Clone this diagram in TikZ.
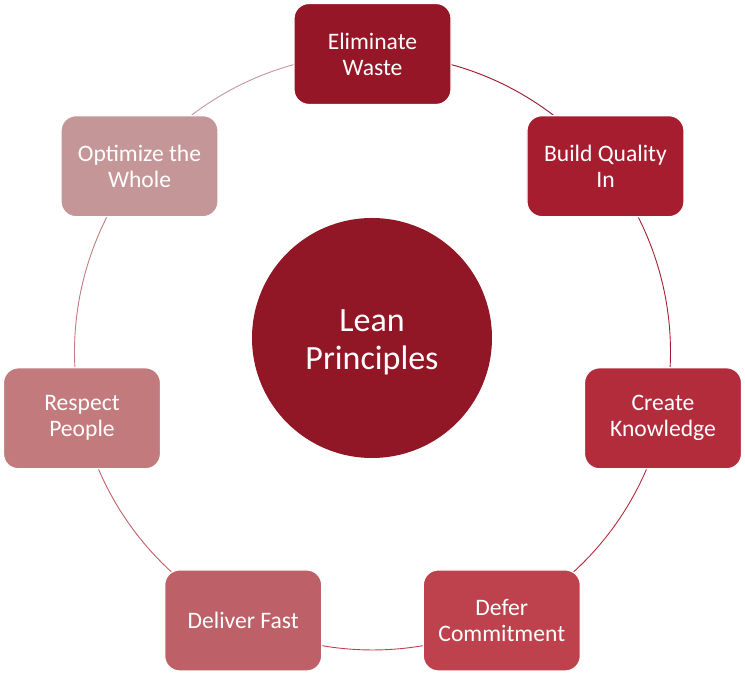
\documentclass[tikz,border=0pt]{standalone}
\usepackage{fontspec}
\setmainfont{Carlito}
\usetikzlibrary{calc}
\definecolor{cA}{RGB}{149,22,39}
\definecolor{cB}{RGB}{166,29,48}
\definecolor{cC}{RGB}{179,44,60}
\definecolor{cD}{RGB}{190,66,77}
\definecolor{cE}{RGB}{190,96,104}
\definecolor{cF}{RGB}{194,122,125}
\definecolor{cG}{RGB}{197,150,152}
\definecolor{cHub}{RGB}{146,23,38}
\tikzset{
  pbox/.style={rounded corners=15pt, minimum width=157pt, minimum height=101pt,
    inner sep=0pt, draw=white, line width=1.2pt, text=white, align=center,
    font=\fontsize{23.6}{26}\selectfont},
  ring/.style={line width=0.9pt},
  hub/.style={circle, minimum size=240pt, inner sep=0pt, fill=cHub, text=white,
    align=center, font=\fontsize{34}{38}\selectfont}
}
\begin{document}
\begin{tikzpicture}[x=1pt,y=1pt]
\useasboundingbox (0,0) rectangle (745,674);
\coordinate (ctr) at (372.5,322);
% ring segments
\foreach \k/\col in {0/cA,1/cB,2/cC,3/cD,4/cE,5/cF,6/cG}{
  \pgfmathsetmacro{\a}{90-\k*360/7}
  \pgfmathsetmacro{\b}{90-(\k+1)*360/7}
  \draw[ring,\col] ($(ctr)+(\a:298)$) arc[start angle=\a, end angle=\b, radius=298];
}
% boxes
\node[pbox,fill=cA] (b0) at ($(ctr)+({90}:298)$) {Eliminate\\Waste};
\node[pbox,fill=cB] (b1) at ($(ctr)+({90-360/7}:298)$) {Build Quality\\In};
\node[pbox,fill=cC] (b2) at ($(ctr)+({90-2*360/7}:298)$) {Create\\Knowledge};
\node[pbox,fill=cD] (b3) at ($(ctr)+({90-3*360/7}:298)$) {Defer\\Commitment};
\node[pbox,fill=cE] (b4) at ($(ctr)+({90-4*360/7}:298)$) {Deliver Fast};
\node[pbox,fill=cF] (b5) at ($(ctr)+({90-5*360/7}:298)$) {Respect\\People};
\node[pbox,fill=cG] (b6) at ($(ctr)+({90-6*360/7}:298)$) {Optimize the\\Whole};
% hub
\node[hub] (hubn) at (372,336) {};
\node[text=white, align=center, font=\fontsize{34}{38}\selectfont, inner sep=0pt] (hubt) at (372,332) {Lean\\Principles};
\end{tikzpicture}
\end{document}
